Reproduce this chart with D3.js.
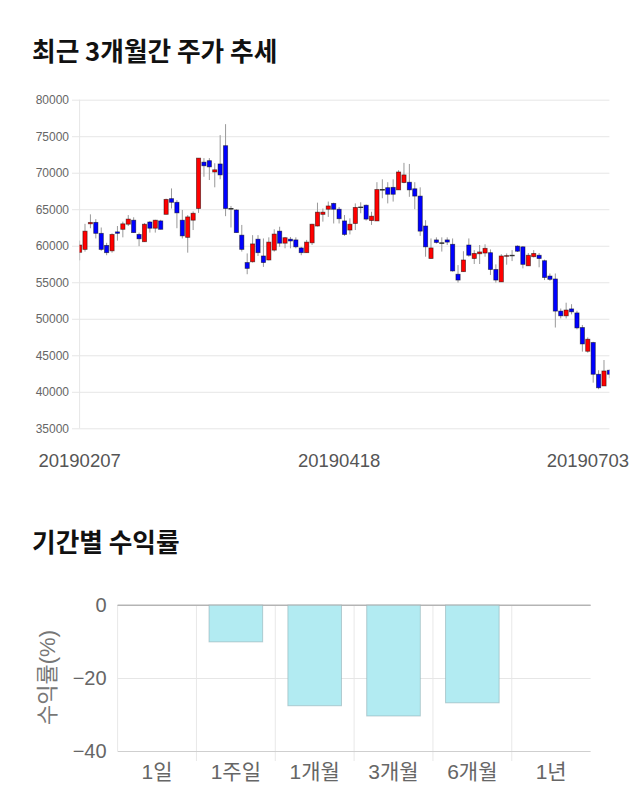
<!DOCTYPE html>
<html><head><meta charset="utf-8">
<script src="https://cdn.jsdelivr.net/npm/d3@7"></script>
<style>
html,body{margin:0;padding:0;background:#fff;}
svg{display:block;}
</style>
</head><body>
<svg id="chart" width="640" height="810"></svg>
<script>
// ---------- DATA ----------
const tickDates = ["20190207", "20190418", "20190703"];
const tickIndex = [0, 48, 98];
const openP  = [59100,59500,63000,63200,61700,60050,59300,61900,62250,62950,63500,61550,60550,63250,62400,63400,64300,66450,65950,63500,61150,63500,65100,71450,71650,70100,71200,73700,65100,64900,61450,57700,57800,60900,58600,58050,59400,62000,60350,60900,60800,59700,59050,60400,62700,64300,65000,65800,65000,63400,62150,63050,65300,65550,63450,63400,67700,67950,68000,67650,68650,68700,67800,66800,62700,58250,60800,60400,60800,60200,56100,56450,60100,58250,58900,59000,59050,56750,55050,58550,58700,59950,59850,57250,58500,58700,57950,55850,55450,51050,50400,51350,50800,48800,45550,46750,42400,40800,42950];
const highP  = [60700,63000,64300,63650,62500,60400,61700,62700,63300,64200,63900,61800,63100,63400,63550,63550,66450,67850,66250,64900,64200,64700,72000,72000,72000,71300,75150,76650,65450,65000,62850,58950,61450,61450,61000,61150,62250,62600,61200,61200,61150,59850,60800,63000,65900,65100,66050,65900,65300,64200,63750,65800,65950,65650,64650,68700,69100,68700,69100,70350,71350,71200,68700,68000,63500,61000,61150,61150,61150,61000,57350,59250,61000,59400,60100,60200,59500,57450,58850,58950,59400,60050,59950,59000,59400,59000,58100,56200,56200,51400,52200,52000,51100,49150,47450,46850,42950,44350,43100];
const lowP   = [58000,59200,62400,61000,59300,58700,59050,60700,61150,62700,61800,59950,60550,61800,61800,62250,64300,65100,62400,61000,59050,62150,64500,69450,69000,68000,69100,64050,62500,61800,59200,56100,57700,58600,57100,58000,59200,59850,59650,59650,59650,58700,59050,60100,62650,63300,63950,63050,63050,61350,61550,62150,64450,63450,62850,63400,66500,65800,66050,67650,68550,66700,65000,61350,58500,58250,60300,59200,60100,56450,54950,56450,58500,57500,57500,58500,56000,54950,55050,57400,57900,59150,56900,57250,58400,57050,55300,55200,48800,50050,50050,50600,48550,45500,45350,41250,40350,40800,41850];
const closeP = [60100,62000,63200,61700,59500,59050,61550,61700,63000,63650,61800,60950,62950,62400,63500,62250,66350,65950,64500,61350,63950,64450,72000,70950,70800,70400,69700,65100,65100,61800,59500,56900,60250,59050,57700,60500,61600,60350,61100,60650,59850,59050,60500,62950,64600,64600,65450,65000,63700,61550,62950,65250,65300,63650,64050,67700,67700,67050,67050,70100,69700,67650,66800,62000,59850,59700,60450,60400,60500,56550,55300,58050,58700,58950,59150,59650,56750,55300,58600,58650,58700,59250,57450,58700,58950,58250,55650,55400,51050,50400,51200,50950,48750,46550,47200,42400,40550,42850,42400];
const priceTicks = [35000,40000,45000,50000,55000,60000,65000,70000,75000,80000];

const periods = ["1일", "1주일", "1개월", "3개월", "6개월", "1년"];
const returns = [0, -10.1, -27.6, -30.4, -26.8, null];
const returnTicks = [0, -20, -40];

// ---------- DRAW ----------
const svg = d3.select("#chart");
const sans = "'Liberation Sans', Arial, 'Noto Sans CJK KR', sans-serif";
const kr = "'Noto Sans CJK KR', 'Liberation Sans', sans-serif";

// Titles
svg.append("text").attr("x", 32).attr("y", 61)
  .attr("font-family", kr).attr("font-weight", "bold").attr("font-size", 25.7)
  .attr("fill", "#111").text("최근 3개월간 주가 추세");
svg.append("text").attr("x", 32).attr("y", 552)
  .attr("font-family", kr).attr("font-weight", "bold").attr("font-size", 25.7)
  .attr("fill", "#111").text("기간별 수익률");

// ----- Candlestick chart -----
const cL = 79.6, cR = 609.4, cT = 99.7, cB = 428.3;
const n = openP.length;
const x = d3.scalePoint().domain(d3.range(n)).range([cL, cR]);
const y = d3.scaleLinear().domain([35000, 80000]).range([cB, cT]);

const yAxis = d3.axisLeft(y).tickValues(priceTicks).tickFormat(d3.format("d"))
  .tickSizeInner(-(cR - 72)).tickSizeOuter(0).tickPadding(3);
const gy = svg.append("g").attr("transform", "translate(72,0)").call(yAxis);
gy.select(".domain").remove();
gy.selectAll(".tick line").attr("stroke", "#e6e6e6");
gy.selectAll(".tick text").attr("font-family", sans).attr("font-size", 12).attr("fill", "#666");

svg.append("line").attr("x1", cL).attr("x2", cL).attr("y1", cT).attr("y2", cB)
  .attr("stroke", "#e6e6e6");

svg.append("clipPath").attr("id", "clipC").append("rect")
  .attr("x", cL).attr("y", cT - 10).attr("width", cR - cL).attr("height", cB - cT + 20);

const cg = svg.append("g").attr("clip-path", "url(#clipC)");
const idx = d3.range(n);
const bw = 4.2;
cg.selectAll("line.wick").data(idx).join("line").attr("class", "wick")
  .attr("x1", i => x(i)).attr("x2", i => x(i))
  .attr("y1", i => y(highP[i])).attr("y2", i => y(lowP[i]))
  .attr("stroke", "#999").attr("stroke-width", 1);
cg.selectAll("rect.body").data(idx).join("rect").attr("class", "body")
  .attr("x", i => x(i) - bw / 2).attr("width", bw)
  .attr("y", i => y(Math.max(openP[i], closeP[i])))
  .attr("height", i => Math.max(0.6, Math.abs(y(openP[i]) - y(closeP[i]))))
  .attr("fill", i => closeP[i] > openP[i] ? "#ff0000" : (closeP[i] < openP[i] ? "#0000ff" : "#333"))
  .attr("stroke", i => closeP[i] === openP[i] ? "#333" : "rgba(0,0,0,0.55)")
  .attr("stroke-width", 0.8);

// X labels
svg.selectAll("text.xlab").data(tickIndex).join("text").attr("class", "xlab")
  .attr("x", (d, i) => i === tickIndex.length - 1 ? 629 : x(d))
  .attr("y", 467)
  .attr("text-anchor", (d, i) => i === tickIndex.length - 1 ? "end" : "middle")
  .attr("font-family", sans).attr("font-size", 18.5).attr("fill", "#555")
  .text((d, i) => tickDates[i]);

// ----- Return bar chart -----
const bL = 117.6, bR = 590.6, bT = 605, bB = 751;
const xb = d3.scaleBand().domain(periods).range([bL, bR]).paddingInner(0.32).paddingOuter(0.16);
const yb = d3.scaleLinear().domain([-40, 0]).range([bB, bT]);
const step = xb.step();

// vertical grid lines
svg.selectAll("line.vg").data(d3.range(periods.length)).join("line").attr("class", "vg")
  .attr("x1", i => bL + i * step).attr("x2", i => bL + i * step)
  .attr("y1", bT).attr("y2", i => i === 0 ? bB : bB + 10)
  .attr("stroke", "#e8e8e8");

const ybAxis = d3.axisLeft(yb).tickValues(returnTicks).tickFormat(d3.format("d"))
  .tickSizeInner(-(bR - bL)).tickSizeOuter(0).tickPadding(11);
const gb = svg.append("g").attr("transform", `translate(${bL},0)`).call(ybAxis);
gb.select(".domain").remove();
gb.selectAll(".tick line").attr("stroke", d => d === 0 ? "#b4b4b4" : (d === -40 ? "#cfcfcf" : "#e6e6e6"));
gb.selectAll(".tick text").attr("font-family", sans).attr("font-size", 20).attr("fill", "#666");

svg.selectAll("rect.bar").data(periods.map((p, i) => ({p, v: returns[i]})).filter(d => d.v !== null && d.v !== 0))
  .join("rect").attr("class", "bar")
  .attr("x", d => xb(d.p)).attr("width", xb.bandwidth())
  .attr("y", d => yb(Math.max(0, d.v))).attr("height", d => Math.abs(yb(d.v) - yb(0)))
  .attr("fill", "#b2ebf2").attr("stroke", "rgba(140,170,175,0.55)").attr("stroke-width", 1);

// redraw zero line on top
svg.append("line").attr("x1", bL).attr("x2", bR).attr("y1", yb(0)).attr("y2", yb(0))
  .attr("stroke", "#b4b4b4");

svg.selectAll("text.plab").data(periods).join("text").attr("class", "plab")
  .attr("x", d => xb(d) + xb.bandwidth() / 2).attr("y", 779)
  .attr("text-anchor", "middle").attr("font-family", sans).attr("font-size", 21)
  .attr("fill", "#666").text(d => d);

svg.append("text").attr("transform", "translate(55,677.5) rotate(-90)")
  .attr("text-anchor", "middle").attr("font-family", sans).attr("font-size", 22)
  .attr("fill", "#777").text("수익률(%)");
</script>
</body></html>
